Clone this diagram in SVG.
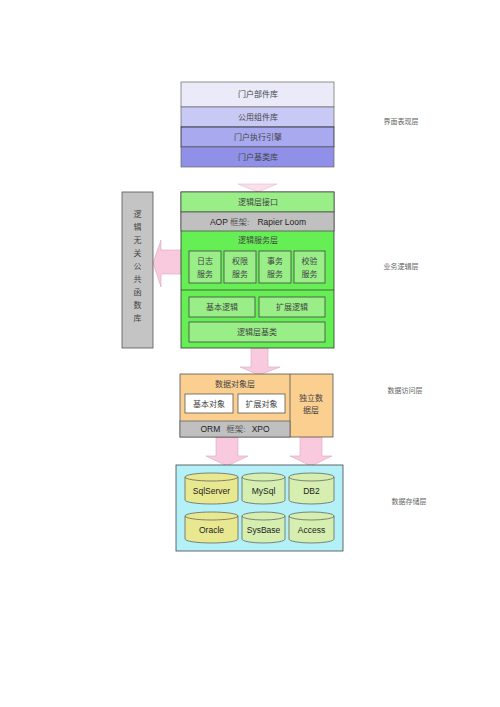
<svg xmlns="http://www.w3.org/2000/svg" width="500" height="707" viewBox="0 0 500 707">
<style>
.zh{font-family:"Liberation Serif","Noto Sans CJK SC",serif;font-size:8px;fill:#444;text-anchor:middle}
.en{font-family:"Liberation Sans",Arial,sans-serif;font-size:8.5px;fill:#222;text-anchor:middle}
.lbl{font-family:"Liberation Serif","Noto Sans CJK SC",serif;font-size:7px;fill:#666;text-anchor:middle}
.g{fill:#66ee55;stroke:#333;stroke-width:0.8}
.gb{fill:#99ee88;stroke:#444;stroke-width:0.8}
.arr{fill:#f9c9de;stroke:#d8a8c0;stroke-width:0.6}
.yc{fill:#e8e890;stroke:#555;stroke-width:0.7}
.gc{fill:#d6efb0;stroke:#555;stroke-width:0.7}
.cj{font-family:"Liberation Serif","Noto Sans CJK SC",serif;fill:#555}
</style>
<rect width="500" height="707" fill="#fff"/>
<g id="connectors">
<path fill="#fbe0ec" stroke="#e0b8cc" stroke-width="0.6" d="M238,184 L277,184 L258,192 Z"/>
<path class="arr" d="M251,348 H268 V367 H280 L259,375 L240,367 H251 Z"/>
<path class="arr" d="M181,250 H161 V240 L153,263 L161,287 V274 H181 Z"/>
<path class="arr" d="M216,437 H238 V456 H248 L227,466 L206,456 H216 Z"/>
<path class="arr" d="M300,437 H322 V456 H332 L311,466 L290,456 H300 Z"/>
</g>
<g id="ui-layer">
<rect x="181" y="82" width="153" height="25" fill="#eaeaf9" stroke="#666" stroke-width="0.7"/>
<text class="zh" x="258" y="97">门户部件库</text>
<rect x="181" y="107" width="153" height="20" fill="#c9c9f5" stroke="#666" stroke-width="0.7"/>
<text class="zh" x="258" y="120">公用组件库</text>
<rect x="181" y="127" width="153" height="20" fill="#a9a9f0" stroke="#222" stroke-width="0.8"/>
<text class="zh" x="258" y="140">门户执行引擎</text>
<rect x="181" y="147" width="153" height="20" fill="#9090e8" stroke="#666" stroke-width="0.7"/>
<text class="zh" x="258" y="160">门户基类库</text>
</g>
<g id="common-lib">
<rect x="122" y="192" width="31" height="156" fill="#c4c4c4" stroke="#555" stroke-width="0.8"/>
<text class="zh" x="137.5" y="217">逻</text>
<text class="zh" x="137.5" y="230">辑</text>
<text class="zh" x="137.5" y="243">无</text>
<text class="zh" x="137.5" y="256">关</text>
<text class="zh" x="137.5" y="269">公</text>
<text class="zh" x="137.5" y="282">共</text>
<text class="zh" x="137.5" y="295">函</text>
<text class="zh" x="137.5" y="308">数</text>
<text class="zh" x="137.5" y="321">库</text>
</g>
<g id="business-layer">
<rect class="g" x="181" y="192" width="153" height="156"/>
<rect x="181" y="192" width="153" height="20" fill="#99ee88" stroke="#444" stroke-width="0.7"/>
<text class="zh" x="258" y="205">逻辑层接口</text>
<rect x="181" y="212" width="153" height="19" fill="#c0c0c0" stroke="#444" stroke-width="0.7"/>
<text x="258" y="225" class="en">AOP <tspan class="cj">框架:</tspan><tspan dx="8">Rapier Loom</tspan></text>
<text class="zh" x="258" y="243">逻辑服务层</text>
<line x1="181" y1="290" x2="334" y2="290" stroke="#333" stroke-width="0.7"/>
<g id="svc-log"><rect class="gb" x="189" y="251" width="32" height="32"/><text class="zh" x="205" y="264">日志</text><text class="zh" x="205" y="277">服务</text></g>
<g id="svc-auth"><rect class="gb" x="224" y="251" width="32" height="32"/><text class="zh" x="240" y="264">权限</text><text class="zh" x="240" y="277">服务</text></g>
<g id="svc-tx"><rect class="gb" x="259" y="251" width="32" height="32"/><text class="zh" x="275" y="264">事务</text><text class="zh" x="275" y="277">服务</text></g>
<g id="svc-check"><rect class="gb" x="294" y="251" width="31" height="32"/><text class="zh" x="309.5" y="264">校验</text><text class="zh" x="309.5" y="277">服务</text></g>
<g id="basic-logic"><rect class="gb" x="189" y="297" width="66" height="20"/><text class="zh" x="222" y="310">基本逻辑</text></g>
<g id="ext-logic"><rect class="gb" x="259" y="297" width="66" height="20"/><text class="zh" x="292" y="310">扩展逻辑</text></g>
<g id="logic-base"><rect class="gb" x="189" y="322" width="136" height="20"/><text class="zh" x="257" y="335">逻辑层基类</text></g>
</g>
<g id="data-access">
<rect x="180" y="374" width="153" height="63" fill="#fbcf90" stroke="#555" stroke-width="0.8"/>
<line x1="290" y1="374" x2="290" y2="437" stroke="#555" stroke-width="0.8"/>
<text class="zh" x="235" y="387">数据对象层</text>
<g id="basic-obj"><rect x="185" y="394" width="48" height="19" fill="#fff" stroke="#444" stroke-width="0.7"/><text class="zh" x="209" y="406.5">基本对象</text></g>
<g id="ext-obj"><rect x="238" y="394" width="47" height="19" fill="#fff" stroke="#444" stroke-width="0.7"/><text class="zh" x="261.5" y="406.5">扩展对象</text></g>
<rect x="180" y="421" width="110" height="16" fill="#c0c0c0" stroke="#555" stroke-width="0.7"/>
<text x="235" y="432" class="en">ORM<tspan class="cj" dx="6">框架:</tspan><tspan dx="6">XPO</tspan></text>
<text class="zh" x="311" y="401">独立数</text>
<text class="zh" x="311" y="413">据层</text>
</g>
<g id="storage">
<rect x="176" y="465" width="167" height="86" fill="#b4f0f8" stroke="#444" stroke-width="0.8"/>
<g id="db-sqlserver"><path class="yc" d="M185,477 A26.5,4 0 0 1 238,477 V500 A26.5,4 0 0 1 185,500 Z"/><path d="M185,477 A26.5,4 0 0 0 238,477" fill="none" stroke="#555" stroke-width="0.7"/><text class="en" x="211.5" y="494">SqlServer</text></g>
<g id="db-mysql"><path class="gc" d="M242,477 A21.5,4 0 0 1 285,477 V500 A21.5,4 0 0 1 242,500 Z"/><path d="M242,477 A21.5,4 0 0 0 285,477" fill="none" stroke="#555" stroke-width="0.7"/><text class="en" x="263.5" y="494">MySql</text></g>
<g id="db-db2"><path class="gc" d="M289,477 A22.5,4 0 0 1 334,477 V500 A22.5,4 0 0 1 289,500 Z"/><path d="M289,477 A22.5,4 0 0 0 334,477" fill="none" stroke="#555" stroke-width="0.7"/><text class="en" x="311.5" y="494">DB2</text></g>
<g id="db-oracle"><path class="yc" d="M185,516 A26.5,4 0 0 1 238,516 V539 A26.5,4 0 0 1 185,539 Z"/><path d="M185,516 A26.5,4 0 0 0 238,516" fill="none" stroke="#555" stroke-width="0.7"/><text class="en" x="211.5" y="533">Oracle</text></g>
<g id="db-sysbase"><path class="gc" d="M242,516 A21.5,4 0 0 1 285,516 V539 A21.5,4 0 0 1 242,539 Z"/><path d="M242,516 A21.5,4 0 0 0 285,516" fill="none" stroke="#555" stroke-width="0.7"/><text class="en" x="263.5" y="533">SysBase</text></g>
<g id="db-access"><path class="gc" d="M289,516 A22.5,4 0 0 1 334,516 V539 A22.5,4 0 0 1 289,539 Z"/><path d="M289,516 A22.5,4 0 0 0 334,516" fill="none" stroke="#555" stroke-width="0.7"/><text class="en" x="311.5" y="533">Access</text></g>
</g>
<g id="layer-labels">
<text class="lbl" x="401" y="124">界面表现层</text>
<text class="lbl" x="401" y="269">业务逻辑层</text>
<text class="lbl" x="405" y="393">数据访问层</text>
<text class="lbl" x="409" y="504">数据存储层</text>
</g>
</svg>
